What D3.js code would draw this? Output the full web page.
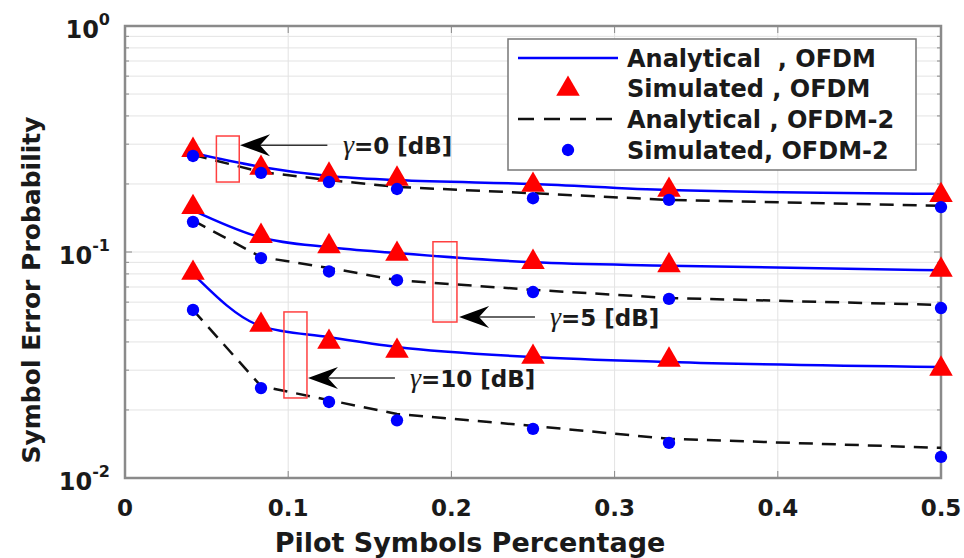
<!DOCTYPE html>
<html>
<head>
<meta charset="utf-8">
<script src="https://cdn.jsdelivr.net/npm/d3@7"></script>
<style>
  body { margin: 0; background: #fff; }
  text { font-family: "DejaVu Sans", "Liberation Sans", sans-serif; font-weight: bold; fill: #1a1a1a; }
</style>
</head>
<body>
<div id="chart"></div>
<script>
// pilot fraction (1/24 ... 1/2)
var pilot = [1/24, 1/12, 1/8, 1/6, 1/4, 1/3, 1/2];

// gamma = 0, 5, 10 dB
var anaOfdm_0 = [0.274, 0.238, 0.217, 0.208, 0.200, 0.188, 0.181];
var simOfdm_0 = [0.288, 0.240, 0.224, 0.215, 0.202, 0.192, 0.182];
var anaOfdm2_0 = [0.269, 0.226, 0.208, 0.194, 0.182, 0.170, 0.160];
var simOfdm2_0 = [0.266, 0.224, 0.204, 0.190, 0.173, 0.170, 0.158];

var anaOfdm_5 = [0.153, 0.116, 0.105, 0.099, 0.090, 0.087, 0.083];
var simOfdm_5 = [0.161, 0.120, 0.108, 0.100, 0.092, 0.089, 0.085];
var anaOfdm2_5 = [0.138, 0.095, 0.085, 0.075, 0.068, 0.0626, 0.0583];
var simOfdm2_5 = [0.136, 0.094, 0.082, 0.075, 0.0665, 0.062, 0.0565];

var anaOfdm_10 = [0.080, 0.047, 0.042, 0.038, 0.0343, 0.0326, 0.031];
var simOfdm_10 = [0.0824, 0.0485, 0.0408, 0.0372, 0.035, 0.034, 0.031];
var anaOfdm2_10 = [0.0554, 0.0255, 0.0221, 0.0192, 0.017, 0.0149, 0.0136];
var simOfdm2_10 = [0.0554, 0.025, 0.0217, 0.018, 0.0165, 0.0143, 0.0124];

var xTicks = [0, 0.1, 0.2, 0.3, 0.4, 0.5];
var yTicks = [0.01, 0.1, 1];
var legendLabels = ['Analytical  , OFDM', 'Simulated , OFDM', 'Analytical , OFDM-2', 'Simulated, OFDM-2'];

var chart_width = 964;
var chart_height = 558;
var p_left = 125, p_right = 941, p_top = 26, p_bottom = 478;

var svg = d3.select('#chart')
  .append('svg')
  .attr('width', chart_width)
  .attr('height', chart_height);

var x_scale = d3.scaleLinear().domain([0, 0.5]).range([p_left, p_right]);
var y_scale = d3.scaleLog().domain([0.01, 1]).range([p_bottom, p_top]);

// grid
var minor = [];
[0.01, 0.1].forEach(function(d) {
  for (var k = 1; k <= 9; k++) minor.push(d * k);
});
minor.push(1);

svg.append('g')
  .selectAll('line')
  .data(minor)
  .enter()
  .append('line')
  .attr('x1', p_left).attr('x2', p_right)
  .attr('y1', function(d) { return y_scale(d); })
  .attr('y2', function(d) { return y_scale(d); })
  .attr('stroke', '#e3e3e3')
  .attr('stroke-width', 1);

svg.append('g')
  .selectAll('line')
  .data(xTicks.slice(1, -1))
  .enter()
  .append('line')
  .attr('x1', function(d) { return x_scale(d); })
  .attr('x2', function(d) { return x_scale(d); })
  .attr('y1', p_top).attr('y2', p_bottom)
  .attr('stroke', '#e3e3e3')
  .attr('stroke-width', 1);

// inward ticks
var tickG = svg.append('g').attr('stroke', '#888').attr('stroke-width', 1);
minor.forEach(function(d) {
  var len = yTicks.indexOf(d) >= 0 ? 7 : 4;
  tickG.append('line').attr('x1', p_left).attr('x2', p_left + len)
    .attr('y1', y_scale(d)).attr('y2', y_scale(d));
  tickG.append('line').attr('x1', p_right).attr('x2', p_right - len)
    .attr('y1', y_scale(d)).attr('y2', y_scale(d));
});
xTicks.forEach(function(d) {
  tickG.append('line').attr('x1', x_scale(d)).attr('x2', x_scale(d))
    .attr('y1', p_bottom).attr('y2', p_bottom - 7);
  tickG.append('line').attr('x1', x_scale(d)).attr('x2', x_scale(d))
    .attr('y1', p_top).attr('y2', p_top + 7);
});

// axis box
svg.append('rect')
  .attr('x', p_left).attr('y', p_top)
  .attr('width', p_right - p_left).attr('height', p_bottom - p_top)
  .attr('fill', 'none')
  .attr('stroke', '#8a8a8a')
  .attr('stroke-width', 2.5);

// tick labels
svg.append('g')
  .selectAll('text')
  .data(xTicks)
  .enter()
  .append('text')
  .attr('x', function(d) { return x_scale(d); })
  .attr('y', 516)
  .attr('text-anchor', 'middle')
  .attr('font-size', 23)
  .text(function(d) { return d; });

var yl = svg.append('g')
  .selectAll('text')
  .data(yTicks)
  .enter()
  .append('text')
  .attr('x', 110)
  .attr('y', function(d) { return y_scale(d) + 12; })
  .attr('text-anchor', 'end')
  .attr('font-size', 24);
yl.append('tspan').text('10');
yl.append('tspan')
  .attr('dy', -13)
  .attr('font-size', 16)
  .text(function(d) { return Math.round(Math.log10(d)); });

// axis titles
svg.append('text')
  .attr('x', 470)
  .attr('y', 552)
  .attr('text-anchor', 'middle')
  .attr('font-size', 27)
  .text('Pilot Symbols Percentage');

svg.append('text')
  .attr('transform', 'translate(40,290) rotate(-90)')
  .attr('text-anchor', 'middle')
  .attr('font-size', 25)
  .text('Symbol Error Probability');

// curves
var line = d3.line()
  .x(function(d, i) { return x_scale(pilot[i]); })
  .y(function(d) { return y_scale(d); })
  .curve(d3.curveMonotoneX);

var lineStraight = d3.line()
  .x(function(d, i) { return x_scale(pilot[i]); })
  .y(function(d) { return y_scale(d); });

var plot = svg.append('g');

[anaOfdm2_0, anaOfdm2_5, anaOfdm2_10].forEach(function(s) {
  plot.append('path')
    .attr('d', lineStraight(s))
    .attr('fill', 'none')
    .attr('stroke', '#111')
    .attr('stroke-width', 2.5)
    .attr('stroke-dasharray', '14,9');
});

[anaOfdm_0, anaOfdm_5, anaOfdm_10].forEach(function(s) {
  plot.append('path')
    .attr('d', line(s))
    .attr('fill', 'none')
    .attr('stroke', '#0000ff')
    .attr('stroke-width', 2.5);
});

var tri = d3.symbol().type(d3.symbolTriangle).size(240);
var dot = d3.symbol().type(d3.symbolCircle).size(120);

[simOfdm_0, simOfdm_5, simOfdm_10].forEach(function(s) {
  plot.append('g')
    .selectAll('path')
    .data(s)
    .enter()
    .append('path')
    .attr('d', tri)
    .attr('transform', function(d, i) {
      return 'translate(' + x_scale(pilot[i]) + ',' + (y_scale(d) + 2) + ')';
    })
    .attr('fill', '#ff0000');
});

[simOfdm2_0, simOfdm2_5, simOfdm2_10].forEach(function(s) {
  plot.append('g')
    .selectAll('path')
    .data(s)
    .enter()
    .append('path')
    .attr('d', dot)
    .attr('transform', function(d, i) {
      return 'translate(' + x_scale(pilot[i]) + ',' + y_scale(d) + ')';
    })
    .attr('fill', '#0000ff');
});

// annotations (data coords): box, arrow and label
var notes = [
  { label: '0', box: [0.056, 0.070, 0.326, 0.204], ay: 0.297, head: 0.0705, tail: 0.124, tx: 0.1336 },
  { label: '5', box: [0.1887, 0.2034, 0.111, 0.049], ay: 0.0516, head: 0.2047, tail: 0.2512, tx: 0.2604 },
  { label: '10', box: [0.0974, 0.1115, 0.0543, 0.0226], ay: 0.0277, head: 0.1121, tail: 0.1654, tx: 0.1746 }
];

var ann = svg.append('g');
notes.forEach(function(n) {
  var x0 = x_scale(n.box[0]), x1 = x_scale(n.box[1]);
  var y0 = y_scale(n.box[2]), y1 = y_scale(n.box[3]);
  ann.append('rect')
    .attr('x', x0).attr('y', y0)
    .attr('width', x1 - x0).attr('height', y1 - y0)
    .attr('fill', 'none')
    .attr('stroke', '#ff4040')
    .attr('stroke-width', 1.5);

  var hx = x_scale(n.head), tx = x_scale(n.tail), ay = y_scale(n.ay);
  ann.append('line')
    .attr('x1', hx + 10).attr('x2', tx)
    .attr('y1', ay).attr('y2', ay)
    .attr('stroke', '#333')
    .attr('stroke-width', 1.5);
  ann.append('path')
    .attr('d', 'M' + hx + ',' + ay + ' L' + (hx + 30) + ',' + (ay - 11) +
      ' L' + (hx + 20) + ',' + ay + ' L' + (hx + 30) + ',' + (ay + 11) + ' Z')
    .attr('fill', '#000');

  var t = ann.append('text')
    .attr('x', x_scale(n.tx))
    .attr('y', ay + 9)
    .attr('font-size', 23);
  t.append('tspan')
    .attr('font-family', '"Liberation Serif", serif')
    .attr('font-style', 'italic')
    .attr('font-weight', 'normal')
    .attr('font-size', 28)
    .text('\u03b3');
  t.append('tspan').text('=' + n.label + ' [dB]');
});

// legend
var lg = svg.append('g');
lg.append('rect')
  .attr('x', 508).attr('y', 39)
  .attr('width', 408).attr('height', 131)
  .attr('fill', '#fff')
  .attr('stroke', '#777')
  .attr('stroke-width', 1.5);

var rowY = [58, 88, 119, 150];
lg.append('line')
  .attr('x1', 518).attr('x2', 618)
  .attr('y1', rowY[0]).attr('y2', rowY[0])
  .attr('stroke', '#0000ff').attr('stroke-width', 2.5);
lg.append('path')
  .attr('d', tri)
  .attr('transform', 'translate(568,' + (rowY[1] + 1) + ')')
  .attr('fill', '#ff0000');
lg.append('line')
  .attr('x1', 518).attr('x2', 618)
  .attr('y1', rowY[2]).attr('y2', rowY[2])
  .attr('stroke', '#111').attr('stroke-width', 2.5)
  .attr('stroke-dasharray', '16,10');
lg.append('path')
  .attr('d', dot)
  .attr('transform', 'translate(568,' + rowY[3] + ')')
  .attr('fill', '#0000ff');

lg.selectAll('text.lab')
  .data(legendLabels)
  .enter()
  .append('text')
  .attr('class', 'lab')
  .attr('x', 627)
  .attr('y', function(d, i) { return rowY[i] + 9; })
  .attr('font-size', 24)
  .style('white-space', 'pre')
  .text(function(d) { return d; });
</script>
</body>
</html>
